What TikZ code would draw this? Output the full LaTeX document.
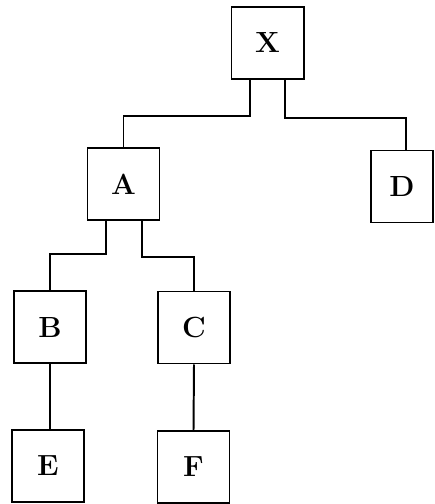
\documentclass[tikz,border=0pt]{standalone}
\usepackage{amsmath,amssymb}
\usepackage{xcolor}

\begin{document}
\begin{tikzpicture}[x=0.025cm,y=-0.025cm,line width=1.4pt,
  blok/.style={draw,minimum width=1.8cm,minimum height=1.8cm,inner sep=0pt,font=\bfseries\huge}]
\useasboundingbox (0,0) rectangle (434,504);
\node[blok] (X) at (267.5,43) {X};
\node[blok] (A) at (123.5,184) {A};
\node[blok,minimum width=1.55cm] (D) at (402,186.5) {D};
\node[blok] (B) at (50,327) {B};
\node[blok] (C) at (194,327.5) {C};
\node[blok] (E) at (48,466) {E};
\node[blok] (F) at (193.5,467) {F};
%
\draw ([xshift=-0.44cm]X.south) -- ++(0,-0.9cm) -| (A.north);
\draw ([xshift=0.44cm]X.south) -- ++(0,-0.95cm) -| ([xshift=0.1cm]D.north);
\draw ([xshift=-0.44cm]A.south) -- ++(0,-0.83cm) -| (B.north);
\draw ([xshift=0.46cm]A.south) -- ++(0,-0.9cm) -| (C.north);
\draw (B.south) -- (B.south |- E.north);
\draw (C.south) -- (F.north);
\end{tikzpicture}
\end{document}
